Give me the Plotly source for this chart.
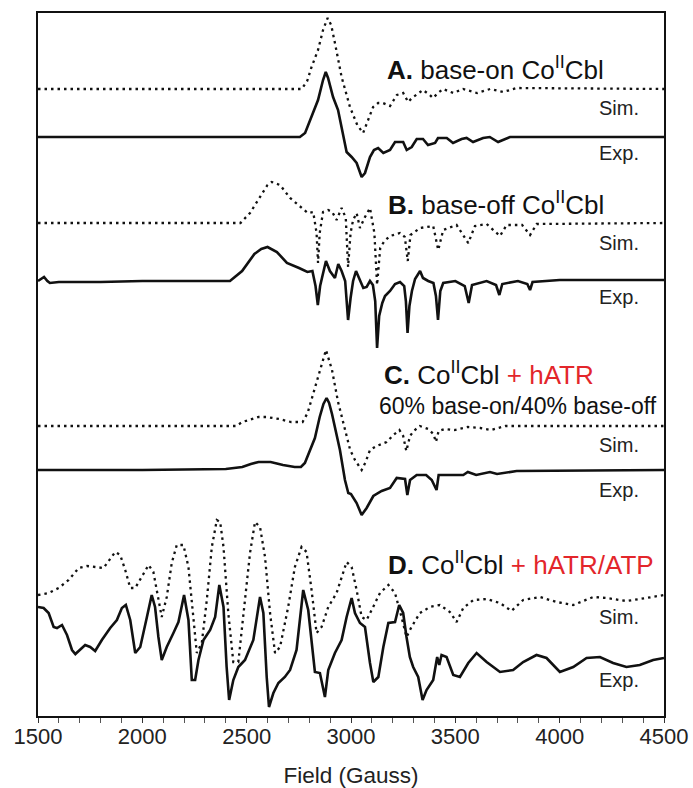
import plotly.graph_objects as go

# ---- data (field in Gauss, intensity in arbitrary units) ----
a_sim_field = [1500, 2764, 2790, 2811, 2842, 2866, 2888, 2905, 2923, 2955, 2995, 3030, 3058, 3080, 3106, 3130, 3153, 3187, 3220, 3250, 3274, 3292, 3320, 3345, 3378, 3393, 3417, 3441, 3490, 3537, 3604, 3667, 3729, 3795, 4500]
a_sim_int = [0, 0, 8, 22, 39, 59, 71, 64, 46, 12, -18, -36, -44, -32, -18, -14, -14, -17, -6, -4, -13, -9, -5, -1, -6, -9, -4, 0, -4, 0, -4, 0, -3, 1, 0]

a_exp_field = [1500, 2755, 2780, 2811, 2842, 2866, 2879, 2890, 2914, 2938, 2962, 2979, 3003, 3027, 3051, 3067, 3091, 3110, 3130, 3155, 3187, 3211, 3250, 3267, 3291, 3315, 3345, 3369, 3403, 3417, 3459, 3489, 3530, 3554, 3585, 3633, 3665, 3705, 3762, 4500]
a_exp_int = [0, 0, 4, 20, 37, 57, 65, 59, 40, 27, 4, -15, -20, -26, -40, -36, -20, -13, -11, -16, -13, -5, -5, -13, -10, -2, -2, -8, -6, -1, -1, -6, -2, -1, -5, -1, 0, -5, 0, 0]

b_sim_field = [1500, 2470, 2516, 2564, 2600, 2620, 2660, 2708, 2756, 2793, 2819, 2835, 2842, 2850, 2866, 2890, 2910, 2931, 2955, 2975, 2986, 2998, 3010, 3027, 3043, 3067, 3091, 3112, 3125, 3140, 3160, 3187, 3235, 3258, 3272, 3285, 3331, 3394, 3418, 3442, 3506, 3562, 3594, 3650, 3714, 3746, 3820, 3858, 3890, 4500]
b_sim_int = [0, 0, 10, 26, 38, 41, 38, 25, 16, 10, 11, -10, -40, -10, 11, 13, 11, 3, 15, 5, -44, -10, 3, 10, -5, 6, 15, -10, -62, -25, -18, -13, -10, -14, -38, -12, -5, -3, -27, -7, -2, -20, -3, -1, -13, -2, -2, -12, -1, 0]

b_exp_field = [1500, 1515, 1529, 1545, 1557, 1600, 1800, 2000, 2200, 2420,
               2478, 2537, 2570, 2600, 2645, 2693, 2751, 2791, 2815, 2830,
               2841, 2852, 2862, 2880, 2899, 2923, 2939, 2955, 2972, 2986,
               2998, 3010, 3024, 3043, 3059, 3075, 3091, 3105, 3116, 3125,
               3135, 3150, 3163, 3187, 3211, 3235, 3255, 3263, 3271, 3280,
               3292, 3307, 3331, 3345, 3370, 3395, 3407, 3417, 3428, 3442,
               3500, 3545, 3564, 3580, 3650, 3695, 3711, 3725, 3800, 3845,
               3858, 3870, 4000, 4500]
b_exp_int = [0, 2, 4, 0, -2, -1, -1, 0, 0, 0,
             10, 27, 32, 34, 29, 18, 13, 9, 10, -5,
             -24, -5, 4, 20, 10, 3, 17, 10, 0, -39,
             -17, 0, 10, 0, -7, -6, 0, -4, -20, -67,
             -35, -22, -15, -10, -3, -1, -5, -20, -52, -25,
             -10, 2, 10, 3, 0, -2, -15, -39, -10, -2,
             0, -5, -22, -4, 0, -4, -14, -3, 0, -3,
             -9, -1, 1, 1]

c_sim_field = [1500, 2450, 2479, 2520, 2557, 2596, 2655, 2713, 2768, 2792, 2821, 2850, 2880, 2909, 2938, 2967, 2996, 3019, 3051, 3070, 3091, 3123, 3171, 3203, 3232, 3250, 3265, 3283, 3300, 3330, 3370, 3395, 3407, 3420, 3450, 3496, 3560, 3620, 3671, 3740, 4500]
c_sim_int = [0, 0, 4, 7, 9, 9, 7, 4, 4, 13, 33, 53, 76, 56, 24, 0, -24, -34, -44, -36, -24, -20, -16, -9, -4, -10, -25, -10, -5, 0, -3, -8, -16, -5, -3, -4, -1, -2, -4, 0, 0]

c_exp_field = [1500, 2000, 2400, 2479, 2520, 2557, 2615, 2674, 2730, 2760, 2779, 2803, 2827, 2850, 2868, 2883, 2895, 2909, 2930, 2947, 2971, 2987, 3000, 3027, 3051, 3075, 3107, 3147, 3187, 3219, 3259, 3270, 3283, 3315, 3360, 3387, 3410, 3420, 3470, 3538, 3560, 3600, 3666, 3700, 3794, 4500]
c_exp_int = [-1, -1, 0, 2, 5, 7, 7, 4, 2, 2, 6, 19, 31, 52, 65, 71, 66, 55, 35, 19, -11, -24, -25, -34, -46, -39, -27, -22, -19, -9, -10, -26, -11, -6, -6, -11, -21, -6, -6, -6, -3, -6, -3, -5, -2, -1]

d_sim_field = [1500, 1551, 1599, 1647, 1695, 1734, 1774, 1814, 1870, 1894, 1918, 1942, 1966, 1998, 2030, 2053, 2069, 2093, 2117, 2141,
               2165, 2197, 2221, 2245, 2261, 2285, 2309, 2333, 2357, 2373, 2389, 2412, 2436, 2460, 2484, 2516, 2540, 2564, 2588, 2612,
               2636, 2660, 2699, 2731, 2763, 2787, 2811, 2835, 2859, 2891, 2931, 2979, 3003, 3027, 3051, 3075, 3099, 3139, 3179, 3211,
               3242, 3266, 3290, 3330, 3378, 3426, 3474, 3506, 3538, 3586, 3650, 3714, 3769, 3825, 3905, 3985, 4065, 4161, 4225, 4320,
               4416, 4500]
d_sim_int = [0, 2, 7, 15, 27, 29, 28, 27, 43, 40, 25, 7, 7, 18, 30, 23, 5, -22, -2, 32,
             50, 50, 28, -25, -58, -48, -5, 48, 75, 73, 48, -18, -67, -67, -18, 42, 73, 68, 38, -18,
             -58, -52, -12, 28, 48, 43, 5, -38, -32, -12, 2, 33, 28, 5, -22, -25, -15, 2, 10, 2,
             -22, -42, -32, -18, -12, -10, -17, -27, -13, -5, -4, -8, -16, -5, -2, -7, -10, -2, -3, -6,
             -3, 0]

d_exp_field = [1500, 1527, 1551, 1575, 1591, 1615, 1639, 1663, 1679, 1711, 1726, 1750, 1774, 1806, 1846, 1878, 1902, 1921, 1942, 1966,
               1990, 2022, 2045, 2061, 2077, 2093, 2117, 2149, 2173, 2200, 2221, 2237, 2253, 2269, 2293, 2325, 2349, 2369, 2389, 2404,
               2416, 2436, 2460, 2492, 2532, 2564, 2580, 2596, 2607, 2628, 2652, 2683, 2708, 2739, 2771, 2795, 2815, 2827, 2851, 2875,
               2891, 2923, 2955, 2979, 3003, 3019, 3043, 3067, 3091, 3107, 3131, 3155, 3179, 3211, 3231, 3250, 3266, 3282, 3298, 3322,
               3343, 3362, 3394, 3413, 3423, 3434, 3458, 3490, 3522, 3562, 3602, 3650, 3714, 3777, 3825, 3889, 3937, 4001, 4065, 4129,
               4193, 4256, 4320, 4384, 4448, 4500]
d_exp_int = [33, 32, 27, 13, 12, 15, 5, -10, -14, -8, -5, -7, -11, 0, 12, 20, 32, 35, 20, -13,
             -7, 23, 45, 33, 3, -20, -7, 7, 18, 45, 20, -40, -40, -20, 0, 10, 23, 55, 33, -27,
             -60, -40, -27, -20, 0, 43, 27, -37, -67, -53, -43, -37, -30, -10, 50, 30, -7, -32, -33, -57,
             -30, -13, 0, 23, 42, 27, 17, 13, -23, -42, -37, -7, 17, 18, 35, 27, 3, -17, -27, -37,
             -60, -50, -40, -17, -25, -15, -17, -35, -37, -23, -13, -22, -32, -30, -22, -15, -18, -32, -27, -18,
             -17, -23, -27, -25, -20, -18]

tick_values = [1500, 2000, 2500, 3000, 3500, 4000, 4500]

# vertical stacking offsets of the baselines (layout, not data)
offsets = {"a_sim": -89, "a_exp": -137, "b_sim": -223, "b_exp": -281,
           "c_sim": -426, "c_exp": -469, "d_sim": -595, "d_exp": -640}

BLACK = "#111111"
RED = "#e3262b"
FONT = "Liberation Sans, Arial, sans-serif"

fig = go.Figure()

def add(field, inten, off, dotted):
    fig.add_trace(go.Scatter(
        x=field, y=[v + off for v in inten], mode="lines",
        line=dict(color=BLACK, width=2.3 if dotted else 2.6,
                  dash="2.5px,4px" if dotted else "solid"),
        hoverinfo="skip", showlegend=False))

add(a_sim_field, a_sim_int, offsets["a_sim"], True)
add(a_exp_field, a_exp_int, offsets["a_exp"], False)
add(b_sim_field, b_sim_int, offsets["b_sim"], True)
add(b_exp_field, b_exp_int, offsets["b_exp"], False)
add(c_sim_field, c_sim_int, offsets["c_sim"], True)
add(c_exp_field, c_exp_int, offsets["c_exp"], False)
add(d_sim_field, d_sim_int, offsets["d_sim"], True)
add(d_exp_field, d_exp_int, offsets["d_exp"], False)

def px_to_field(px):
    return 1500 + (px - 38) * 3000 / 626

labels = [
    ("<b>A.</b> base-on Co<sup>II</sup>Cbl", 385, 68, 26),
    ("<b>B.</b> base-off Co<sup>II</sup>Cbl", 386, 203, 26),
    ("<b>C.</b> Co<sup>II</sup>Cbl <span style='color:%s'>+ hATR</span>" % RED, 382, 373, 26),
    ("60% base-on/40% base-off", 377, 406, 23),
    ("<b>D.</b> Co<sup>II</sup>Cbl <span style='color:%s'>+ hATR/ATP</span>" % RED, 386, 563, 26),
]
for text, px, py, size in labels:
    fig.add_annotation(x=px_to_field(px), y=-py, xref="x", yref="y", text=text,
                       showarrow=False, xanchor="left", yanchor="middle",
                       font=dict(family=FONT, size=size, color=BLACK))

side = [("Sim.", 108), ("Exp.", 153), ("Sim.", 243), ("Exp.", 297),
        ("Sim.", 445), ("Exp.", 490), ("Sim.", 617), ("Exp.", 680)]
for text, py in side:
    fig.add_annotation(x=px_to_field(641), y=-py, xref="x", yref="y", text=text,
                       showarrow=False, xanchor="right", yanchor="middle",
                       font=dict(family=FONT, size=20, color="#222222"))

fig.update_layout(
    width=693, height=788,
    margin=dict(l=38, r=29, t=13, b=72, autoexpand=False),
    paper_bgcolor="white", plot_bgcolor="white",
    font=dict(family=FONT, color=BLACK),
    xaxis=dict(range=[1500, 4500], tickvals=tick_values, automargin=False,
               ticks="outside", ticklen=5, tickwidth=1.2, tickcolor="#333",
               ticklabelstandoff=-5,
               minor=dict(dtick=100, ticks="outside", ticklen=5, tickwidth=1, tickcolor="#555"),
               showline=True, mirror=True, linecolor=BLACK, linewidth=1.8,
               showgrid=False, zeroline=False,
               tickfont=dict(family=FONT, size=22, color="#222"),
               title=dict(text="Field (Gauss)", font=dict(family=FONT, size=22.5, color="#222"), standoff=24)),
    yaxis=dict(range=[-716, -13], showticklabels=False, ticks="", showline=True, mirror=True,
               automargin=False,
               linecolor=BLACK, linewidth=1.8, showgrid=False, zeroline=False),
)

fig.write_html("out.html")
